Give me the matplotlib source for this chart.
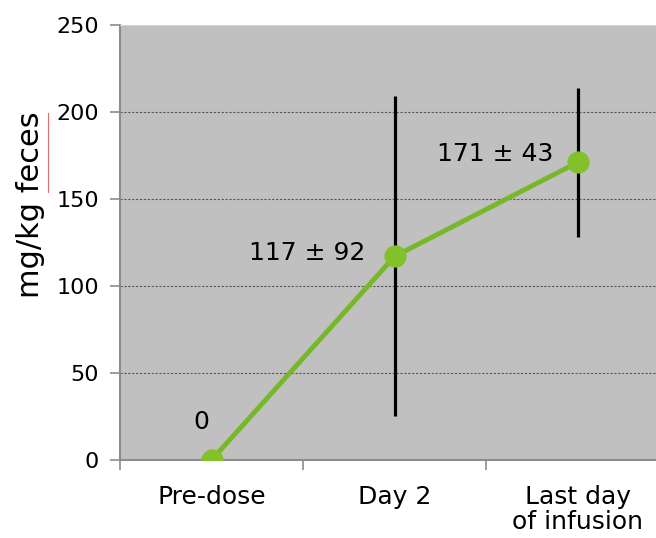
import numpy as np
import matplotlib
matplotlib.use('Agg')
import matplotlib.pyplot as plt
from matplotlib.lines import Line2D

# Dados
categorias = ['Pre-dose', 'Day 2', 'Last day\nof infusion']
media = [0, 117, 171]
desvio = [0, 92, 43]
rotulos = ['0', '117 ± 92', '171 ± 43']
y_ticks = [0, 50, 100, 150, 200, 250]

plt.rcParams['font.family'] = 'DejaVu Sans'

fig = plt.figure(figsize=(6.56, 5.38), dpi=100)
ax = fig.add_axes([0.183, 0.145, 0.837, 0.8086])
ax.set_facecolor('#c0c0c0')

x = np.arange(len(categorias))

# barras de erro (sem o ponto zero)
ax.errorbar(x[1:], media[1:], yerr=desvio[1:], fmt='none', ecolor='black',
            elinewidth=2.3, capsize=0, zorder=3)
ax.plot(x, media, '-', color='#77b82a', linewidth=3.5, zorder=4)
ax.plot(x, media, 'o', color='#82c12a', markersize=15, zorder=5)

# rotulos dos pontos (deslocamento em x, altura da linha de base)
desloc_x = [-0.057, -0.16, -0.134]
base_y = [18, 115, 172]
alinh = ['center', 'right', 'right']
for xi, txt, dx, by, ha in zip(x, rotulos, desloc_x, base_y, alinh):
    ax.text(xi + dx, by, txt, fontsize=18, ha=ha, va='baseline',
            color='black', zorder=6)

ax.set_xlim(-0.5, 2.5)
ax.set_ylim(0, 250)
ax.set_yticks(y_ticks)
ax.set_xticks(x)
ax.set_xticklabels(categorias, fontsize=18, linespacing=1.05)
ax.set_xticks([-0.5, 0.5, 1.5, 2.5], minor=True)
ax.tick_params(axis='x', which='major', length=0, pad=18)
ax.tick_params(axis='x', which='minor', length=7, color='#8c8c8c', width=1.2)
ax.tick_params(axis='y', length=7, color='#8c8c8c', width=1.2, labelsize=16, pad=8)

ax.grid(True, axis='y', linestyle=(0, (2, 1.5)), color='#555555', linewidth=0.8)
ax.set_axisbelow(True)

for lado in ['left', 'bottom']:
    ax.spines[lado].set_color('#8c8c8c')
    ax.spines[lado].set_linewidth(1.5)
ax.spines['top'].set_color('#d8d8d8')
ax.spines['right'].set_visible(False)

ax.set_ylabel('mg/kg feces', fontsize=22)
ax.yaxis.set_label_coords(-0.137, 0.586)

# sublinhado vermelho do corretor ortografico
fig.add_artist(Line2D([0.0727, 0.0727], [0.643, 0.79], color='#e07070',
                      linewidth=0.8, transform=fig.transFigure))

plt.savefig('out.png', dpi=100)
